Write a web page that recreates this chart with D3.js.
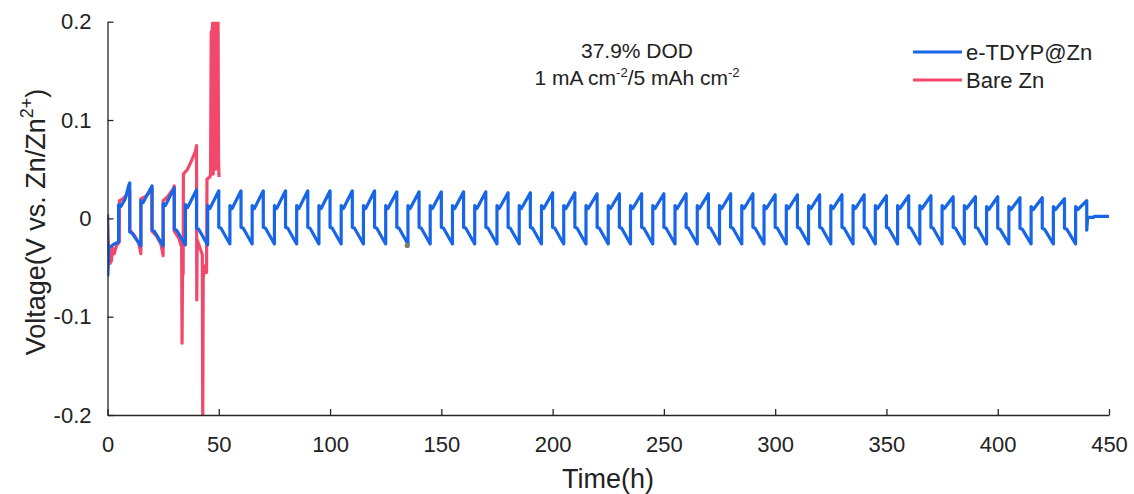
<!DOCTYPE html>
<html>
<head>
<meta charset="utf-8">
<script src="https://cdn.jsdelivr.net/npm/d3@7"></script>
<style>
  html, body { margin: 0; padding: 0; background: #fff; }
  svg { display: block; font-family: "Liberation Sans", Arial, Helvetica, sans-serif; }
</style>
</head>
<body>
<svg id="chart" width="1134" height="494"></svg>
<script>
// ---- data -------------------------------------------------------------
const xTicks = [0, 50, 100, 150, 200, 250, 300, 350, 400, 450];
const yTicks = [-0.2, -0.1, 0, 0.1, 0.2];
const yTickLabels = ["-0.2", "-0.1", "0", "0.1", "0.2"];
const seriesNames = ["e-TDYP@Zn", "Bare Zn"];

// e-TDYP@Zn: first (formation) cycle, time (h) / voltage (V)
const blueHead = [
  [0, 0.004], [0.15, -0.058], [0.6, -0.030], [3, -0.026], [5, -0.024],
  [5, 0.014], [6, 0.012], [8, 0.020], [9.6, 0.034], [10, 0.036]
];
// e-TDYP@Zn: regular cycles (h), each starting with the stripping half
const cycleStart = [10, 20, 30, 40, 50, 60, 70, 80, 90, 100,
  110, 120, 130, 140, 150, 160, 170, 180, 190, 200,
  210, 220, 230, 240, 250, 260, 270, 280, 290, 300,
  310, 320, 330, 340, 350, 360, 370, 380, 390, 400,
  410, 420, 430];
// voltage right after the step down
const blueDrop = [-0.014, -0.012, -0.011, -0.010, -0.009, -0.009, -0.009, -0.009, -0.009, -0.009,
  -0.009, -0.009, -0.009, -0.009, -0.009, -0.009, -0.009, -0.009, -0.009, -0.009,
  -0.009, -0.009, -0.009, -0.009, -0.009, -0.009, -0.009, -0.009, -0.009, -0.009,
  -0.009, -0.009, -0.009, -0.009, -0.009, -0.009, -0.009, -0.009, -0.009, -0.010,
  -0.010, -0.010, -0.010];
// voltage about 1 h into the stripping half
const blueDropKnee = [-0.015, -0.013, -0.012, -0.011, -0.010, -0.010, -0.010, -0.010, -0.010, -0.010,
  -0.010, -0.010, -0.010, -0.010, -0.010, -0.010, -0.010, -0.010, -0.010, -0.010,
  -0.010, -0.010, -0.010, -0.010, -0.010, -0.010, -0.010, -0.010, -0.010, -0.010,
  -0.010, -0.010, -0.010, -0.010, -0.010, -0.010, -0.010, -0.010, -0.010, -0.011,
  -0.011, -0.011, -0.011];
// voltage at the end of the stripping half
const blueTrough = [-0.028, -0.028, -0.027, -0.027, -0.026, -0.026, -0.026, -0.026, -0.026, -0.026,
  -0.026, -0.026, -0.026, -0.026, -0.026, -0.026, -0.026, -0.026, -0.026, -0.026,
  -0.026, -0.026, -0.026, -0.026, -0.026, -0.026, -0.026, -0.026, -0.026, -0.026,
  -0.026, -0.026, -0.026, -0.026, -0.026, -0.026, -0.026, -0.026, -0.026, -0.026,
  -0.026, -0.026, -0.026];
// voltage right after the step up
const blueRise = [0.018, 0.015, 0.014, 0.013, 0.013, 0.013, 0.013, 0.013, 0.013, 0.013,
  0.013, 0.013, 0.013, 0.013, 0.013, 0.013, 0.013, 0.013, 0.013, 0.013,
  0.013, 0.013, 0.013, 0.013, 0.013, 0.013, 0.013, 0.013, 0.013, 0.013,
  0.013, 0.013, 0.013, 0.013, 0.013, 0.013, 0.013, 0.013, 0.012, 0.012,
  0.012, 0.012, 0.012];
// voltage about 1 h into the plating half
const blueRiseKnee = [0.016, 0.013, 0.011, 0.010, 0.010, 0.010, 0.010, 0.010, 0.010, 0.010,
  0.010, 0.010, 0.010, 0.010, 0.010, 0.010, 0.010, 0.010, 0.010, 0.010,
  0.010, 0.010, 0.010, 0.010, 0.010, 0.010, 0.010, 0.010, 0.010, 0.010,
  0.010, 0.010, 0.010, 0.010, 0.010, 0.010, 0.010, 0.010, 0.009, 0.009,
  0.009, 0.009, 0.009];
// voltage at the end of the plating half
const bluePeak = [0.033, 0.031, 0.029, 0.028, 0.028, 0.028, 0.028, 0.028, 0.028, 0.028,
  0.028, 0.027, 0.027, 0.027, 0.027, 0.027, 0.026, 0.026, 0.026, 0.026,
  0.025, 0.025, 0.025, 0.025, 0.025, 0.025, 0.025, 0.025, 0.024, 0.024,
  0.024, 0.024, 0.024, 0.023, 0.023, 0.023, 0.022, 0.022, 0.022, 0.021,
  0.021, 0.020, 0.018];
// e-TDYP@Zn: rest after the last cycle
const blueTail = [[440, -0.012], [440.4, 0.001], [443, 0.001], [443.4, 0.002], [450, 0.002]];

// Bare Zn: time (h) / voltage (V) until short circuit
const redPoints = [
  [0, 0.004], [0.3, -0.022], [1.0, -0.046], [1.8, -0.043], [2.2, -0.030], [3.0, -0.036],
  [4.0, -0.028], [5.3, -0.024], [5.4, 0.018], [7, 0.020], [9.5, 0.026], [10, 0.028],
  [10, -0.012], [12, -0.017], [14, -0.025], [15, -0.036],
  [15, 0.020], [17, 0.022], [19.5, 0.028], [20, 0.031],
  [20, -0.013], [22, -0.018], [24, -0.026], [25, -0.038],
  [25, 0.018], [27, 0.022], [29.5, 0.030], [30, 0.033],
  [30, -0.013], [32, -0.020], [33.3, -0.029], [33.5, -0.127], [33.7, -0.060], [34.0, -0.055],
  [34.1, 0.045], [36, 0.050], [38, 0.060], [39.5, 0.068], [40, 0.074],
  [40.1, -0.083], [40.3, -0.022], [41.5, -0.030], [42.6, -0.037], [42.8, -0.215],
  [43.0, -0.060], [44.0, -0.048], [44.5, -0.055], [44.7, 0.040], [46.0, 0.042],
  [46.3, 0.045], [46.6, 0.190], [46.8, 0.045], [47.0, 0.190], [47.3, 0.200],
  [47.5, 0.045], [47.8, 0.230], [48.2, 0.250], [48.6, 0.050], [49.0, 0.250],
  [49.3, 0.080], [49.6, 0.250], [49.9, 0.060], [50.1, 0.042]
];
// single marker point on the plot
const markerPoints = [[134.7, -0.0275]];

const annotationLines = ["37.9% DOD", "1 mA cm|-2|/5 mAh cm|-2"];

// ---- layout -----------------------------------------------------------
const colors = { blue: "#1766e8", red: "#f2486c" };
const svg = d3.select("#chart");
const x = d3.scaleLinear().domain([0, 450]).range([107.5, 1109]);
const y = d3.scaleLinear().domain([-0.2, 0.2]).range([415, 21.7]);

// assemble the e-TDYP@Zn trace
const bluePoints = blueHead.slice();
cycleStart.forEach((s, i) => {
  bluePoints.push([s, blueDrop[i]]);
  bluePoints.push([s + 1, blueDropKnee[i]]);
  bluePoints.push([s + 5, blueTrough[i]]);
  bluePoints.push([s + 5, blueRise[i]]);
  bluePoints.push([s + 6, blueRiseKnee[i]]);
  bluePoints.push([s + 10, bluePeak[i]]);
});
blueTail.forEach(p => bluePoints.push(p));

svg.append("defs").append("clipPath").attr("id", "plotClip")
  .append("rect")
  .attr("x", x(0)).attr("y", y(0.2))
  .attr("width", x(450) - x(0)).attr("height", y(-0.2) - y(0.2));

const line = d3.line().x(d => x(d[0])).y(d => y(d[1]));
const plot = svg.append("g").attr("clip-path", "url(#plotClip)");

plot.append("path").datum(redPoints)
  .attr("d", line).attr("fill", "none")
  .attr("stroke", colors.red).attr("stroke-width", 3.2)
  .attr("stroke-linejoin", "round");

plot.append("path").datum(bluePoints)
  .attr("d", line).attr("fill", "none")
  .attr("stroke", colors.blue).attr("stroke-width", 3.2)
  .attr("stroke-linejoin", "round");

plot.selectAll("circle.marker").data(markerPoints).join("circle")
  .attr("class", "marker")
  .attr("cx", d => x(d[0])).attr("cy", d => y(d[1]))
  .attr("r", 2.6).attr("fill", "#7d7d68");

// ---- axes (ticks pointing inward) --------------------------------------
const axisColor = "#262626";
const xAxis = d3.axisBottom(x).tickValues(xTicks).tickFormat(d3.format("d"))
  .tickSizeInner(-6).tickSizeOuter(0).tickPadding(21);
const gx = svg.append("g").attr("transform", `translate(0,${y(-0.2)})`).call(xAxis);
gx.select(".domain").attr("stroke", axisColor).attr("stroke-width", 1.3);
gx.selectAll(".tick line").attr("stroke", axisColor).attr("stroke-width", 1.3);
gx.selectAll(".tick text").attr("fill", "#222").style("font-size", "22px");

const yAxis = d3.axisLeft(y).tickValues(yTicks)
  .tickFormat((d, i) => yTickLabels[i])
  .tickSizeInner(-6).tickSizeOuter(0).tickPadding(16);
const gy = svg.append("g").attr("transform", `translate(${x(0)},0)`).call(yAxis);
gy.select(".domain").attr("stroke", axisColor).attr("stroke-width", 1.3);
gy.selectAll(".tick line").attr("stroke", axisColor).attr("stroke-width", 1.3);
gy.selectAll(".tick text").attr("fill", "#222").style("font-size", "22px");

// axis titles
svg.append("text")
  .attr("x", 608).attr("y", 488)
  .attr("text-anchor", "middle").attr("fill", "#222")
  .style("font-size", "27px").text("Time(h)");

const yTitle = svg.append("text")
  .attr("transform", "translate(45,222) rotate(-90)")
  .attr("text-anchor", "middle").attr("fill", "#222")
  .style("font-size", "27px");
yTitle.append("tspan").text("Voltage(V vs. Zn/Zn");
yTitle.append("tspan").attr("dy", -12).style("font-size", "18px").text("2+");
yTitle.append("tspan").attr("dy", 12).text(")");

// ---- annotation --------------------------------------------------------
annotationLines.forEach((txt, i) => {
  const t = svg.append("text")
    .attr("x", 637).attr("y", 58 + i * 27)
    .attr("text-anchor", "middle").attr("fill", "#222")
    .style("font-size", "21px");
  txt.split("|").forEach((part, j) => {
    const sup = j % 2 === 1;
    const ts = t.append("tspan").text(part);
    if (sup) ts.attr("dy", -8).style("font-size", "13px");
    else if (j > 0) ts.attr("dy", 8);
  });
});

// ---- legend ------------------------------------------------------------
const legend = svg.append("g");
[colors.blue, colors.red].forEach((c, i) => {
  const ly = 52 + i * 28;
  legend.append("line")
    .attr("x1", 913).attr("x2", 962).attr("y1", ly).attr("y2", ly)
    .attr("stroke", c).attr("stroke-width", 3.2);
  legend.append("text")
    .attr("x", 966).attr("y", ly + 8).attr("fill", "#222")
    .style("font-size", "22px").text(seriesNames[i]);
});
</script>
</body>
</html>
